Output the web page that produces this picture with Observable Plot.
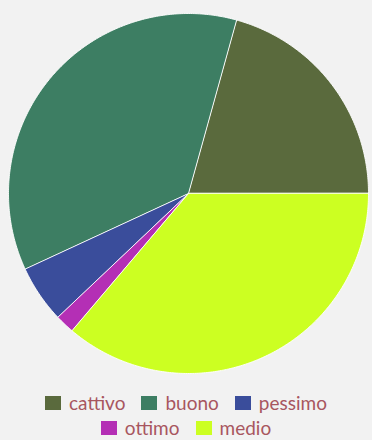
<!DOCTYPE html>
<html>
<head>
<meta charset="utf-8">
<script src="https://cdn.jsdelivr.net/npm/d3@7"></script>
<script src="https://cdn.jsdelivr.net/npm/@observablehq/plot@0.6"></script>
<style>
  html, body { margin: 0; padding: 0; background: #f2f2f2; }
  #chart svg { display: block; background: #f2f2f2; }
  .legend { width: 372px; margin-top: 6px; font-family: Lato, "Open Sans", sans-serif; font-size: 19px; color: #a8565f; line-height: 25px; }
  .legend .row { width: 372px; display: flex; justify-content: center; }
  .legend .item { display: flex; align-items: center; margin: 0 8px; }
  .legend .sw { width: 16px; height: 14px; margin-right: 8px; display: inline-block; }
</style>
</head>
<body>
<div id="chart"></div>
<script>
const categories = ["cattivo", "buono", "pessimo", "ottimo", "medio"];
const values = [12, 21, 3, 1, 21];
const colors = ["#5a6a3d", "#3d7e63", "#3a4d9b", "#b42fb5", "#ccff22"];

const pie = d3.pie().sort(null).value(d => d.value)
  .startAngle(Math.PI / 2).endAngle(Math.PI / 2 - 2 * Math.PI);
const arcs = pie(categories.map((c, i) => ({cat: c, value: values[i]})));

const pts = [];
for (const a of arcs) {
  const n = Math.max(2, Math.ceil(Math.abs(a.endAngle - a.startAngle) / 0.01));
  pts.push({cat: a.data.cat, x: 0, y: 0});
  for (let k = 0; k <= n; k++) {
    const t = a.startAngle + (a.endAngle - a.startAngle) * k / n;
    pts.push({cat: a.data.cat, x: Math.sin(t), y: Math.cos(t)});
  }
}

const plot = Plot.plot({
  width: 372,
  height: 384,
  margin: 0,
  style: {background: "#f2f2f2"},
  x: {domain: [-1, 1], range: [8, 368], axis: null},
  y: {domain: [-1, 1], range: [373, 13], axis: null},
  color: {domain: categories, range: colors},
  marks: [
    Plot.line(pts, {x: "x", y: "y", z: "cat", fill: "cat", stroke: "#ffffff", strokeWidth: 1, strokeOpacity: 0.9, curve: "linear-closed"})
  ]
});
document.getElementById("chart").appendChild(plot);

const legend = document.createElement("div");
legend.className = "legend";
const rows = [[0, 1, 2], [3, 4]];
for (const r of rows) {
  const row = document.createElement("div");
  row.className = "row";
  for (const i of r) {
    const it = document.createElement("span");
    it.className = "item";
    it.innerHTML = `<span class="sw" style="background:${colors[i]}"></span>${categories[i]}`;
    row.appendChild(it);
  }
  legend.appendChild(row);
}
document.body.appendChild(legend);
</script>
</body>
</html>
